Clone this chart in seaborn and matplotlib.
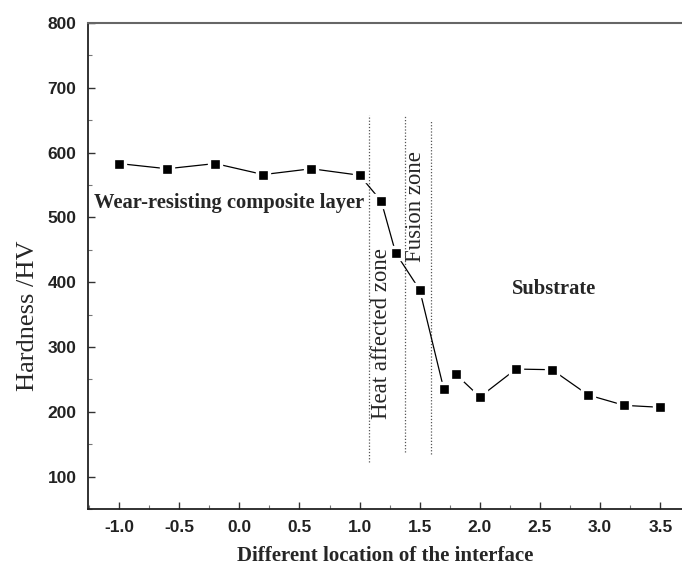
import matplotlib
matplotlib.use("Agg")
import matplotlib.pyplot as plt
import seaborn as sns
import pandas as pd
from matplotlib.ticker import MultipleLocator

# Data
location = [-1.0, -0.6, -0.2, 0.2, 0.6, 1.0, 1.18, 1.3, 1.5, 1.7, 1.8, 2.0, 2.3, 2.6, 2.9, 3.2, 3.5]
hardness = [583, 575, 583, 566, 575, 565, 525, 445, 388, 235, 258, 223, 266, 265, 226, 210, 207]
zone_bounds = [1.075, 1.38, 1.59]
zone_ymin = [123, 138, 135]
zone_ymax = [658, 658, 648]
x_ticks = [-1.0, -0.5, 0.0, 0.5, 1.0, 1.5, 2.0, 2.5, 3.0, 3.5]
y_ticks = [100, 200, 300, 400, 500, 600, 700, 800]

df = pd.DataFrame({"loc": location, "hv": hardness})

sns.set_theme(style="white")
plt.rcParams["font.family"] = ["Liberation Serif", "DejaVu Serif"]

fig = plt.figure(figsize=(6.82, 5.72), dpi=100)
ax = fig.add_axes([0.1286, 0.110, 0.8714, 0.850])

sns.lineplot(data=df, x="loc", y="hv", ax=ax, color="black", linewidth=0.9,
             marker="s", markersize=9.0, markerfacecolor="black",
             markeredgecolor="white", markeredgewidth=2.4, zorder=3)

for xb, y0, y1 in zip(zone_bounds, zone_ymin, zone_ymax):
    ax.plot([xb, xb], [y0, y1], color="#555555", linestyle=(0, (1, 1.5)), linewidth=0.9, zorder=2)

ax.set_xlim(-1.26, 3.68)
ax.set_ylim(50, 800)
ax.set_xticks(x_ticks)
ax.set_yticks(y_ticks)
ax.xaxis.set_minor_locator(MultipleLocator(0.25))
ax.yaxis.set_minor_locator(MultipleLocator(50))
ax.set_xticklabels([f"{v:.1f}" for v in x_ticks])
ax.set_yticklabels([str(v) for v in y_ticks])

ax.tick_params(axis="both", which="major", direction="in", length=5, width=1.0, color="#333333")
ax.tick_params(axis="both", which="minor", direction="in", length=3, width=0.8, color="#777777")
ax.tick_params(axis="y", which="major", pad=8, left=True)
ax.tick_params(axis="x", which="major", pad=8, bottom=True)
ax.tick_params(axis="y", which="minor", left=True)
ax.tick_params(axis="x", which="minor", bottom=True)

for lab in ax.get_xticklabels() + ax.get_yticklabels():
    lab.set_family(["Liberation Sans", "DejaVu Sans"])
    lab.set_fontweight("heavy")
    lab.set_fontsize(12.5)
    lab.set_color("#222222")

for side in ["left", "bottom"]:
    ax.spines[side].set_color("#222222")
    ax.spines[side].set_linewidth(1.3)
ax.spines["top"].set_color("#666666")
ax.spines["top"].set_linewidth(1.5)
ax.spines["right"].set_visible(False)

ax.set_xlabel("Different location of the interface", fontsize=15, fontweight="bold", labelpad=8)
ax.set_ylabel("Hardness /HV", fontsize=19, va="center")
ax.yaxis.set_label_coords(-0.101, 0.397)

ax.text(-1.207, 515, "Wear-resisting composite layer", fontsize=14.8, fontweight="bold",
        ha="left", va="baseline", zorder=4)
ax.text(1.185, 320, "Heat affected zone", fontsize=16.4, rotation=90, ha="center", va="center", zorder=1)
ax.text(1.465, 516, "Fusion zone", fontsize=16.4, rotation=90, ha="center", va="center", zorder=1)
ax.text(2.62, 389, "Substrate", fontsize=14.8, fontweight="bold", ha="center", va="center")

fig.savefig("out.png", dpi=100)
